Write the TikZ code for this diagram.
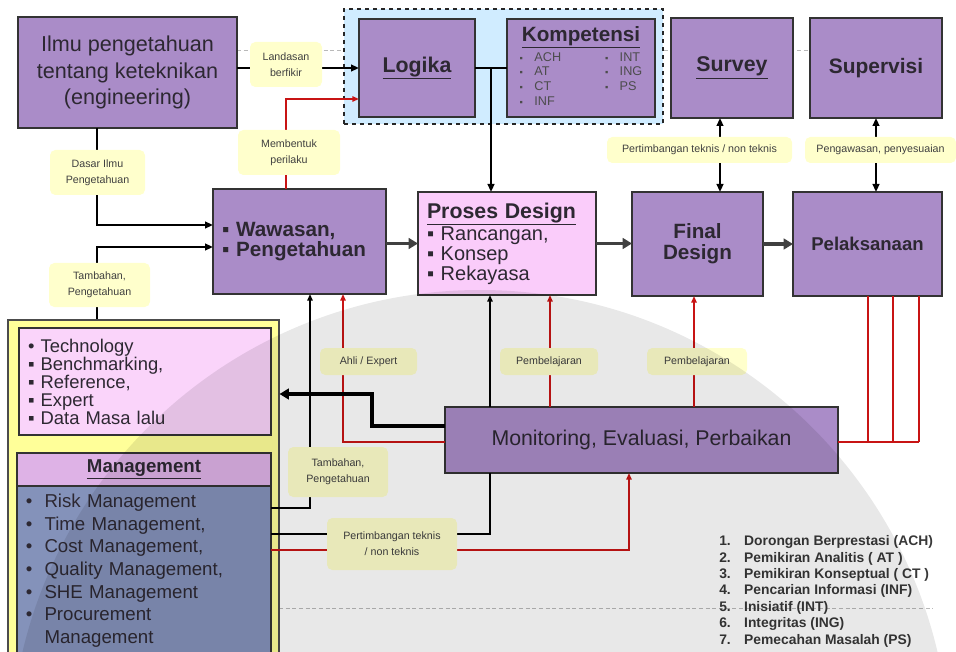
\documentclass[tikz,border=0pt]{standalone}
\usepackage{fontspec}
\setmainfont{Liberation Sans}
\usetikzlibrary{arrows.meta}

\definecolor{boxpurple}{RGB}{170,140,200}
\definecolor{boxpink}{RGB}{250,204,250}
\definecolor{techpink}{RGB}{250,212,250}
\definecolor{mgmthead}{RGB}{222,178,230}
\definecolor{mgmtlist}{RGB}{132,146,186}
\definecolor{lblyellow}{RGB}{255,255,204}
\definecolor{frameyellow}{RGB}{255,255,153}
\definecolor{skyblue}{RGB}{208,236,255}
\definecolor{linkred}{RGB}{200,20,20}
\definecolor{inktext}{RGB}{45,40,50}
\definecolor{guidegrey}{RGB}{185,185,185}

% node from pixel corners: name, style, x1, y1, x2, y2, text
\newcommand\pxbox[7]{%
  \node[#2, minimum width={(#5-#3)*0.75pt}, minimum height={(#6-#4)*0.75pt}]
    (#1) at ({(#3+#5)/2},{(#4+#6)/2}) {#7};}

\tikzset{
  box/.style={draw=black!80, line width=1pt, fill=boxpurple, text=inktext,
              align=center, inner sep=0pt, outer sep=0pt},
  pinkbox/.style={box, fill=boxpink},
  lbl/.style={fill=lblyellow, rounded corners=4pt, text=black!75, align=center,
              inner sep=0pt, outer sep=0pt, font=\fontsize{8}{12}\selectfont},
  conn/.style={draw=black, line width=1.6pt, -{Triangle[length=6pt,width=5pt]}},
  dconn/.style={draw=black, line width=1.6pt,
                {Triangle[length=6pt,width=5pt]}-{Triangle[length=6pt,width=5pt]}},
  thinconn/.style={draw=black, line width=1.2pt, -{Triangle[length=5pt,width=4pt]}},
  thinblk/.style={draw=black, line width=1.4pt},
  bigarrow/.style={draw=black!75, line width=2.6pt, -{Triangle[length=7pt,width=8pt]}},
  redconn/.style={draw=linkred, line width=1.2pt, -{Triangle[length=5pt,width=4pt]}},
  redline/.style={draw=linkred, line width=1.2pt},
  guide/.style={draw=guidegrey, line width=0.6pt, dash pattern=on 3pt off 2pt},
  seal/.style={fill=black, opacity=0.09},
}

\begin{document}
\begin{tikzpicture}[x=0.75pt, y=-0.75pt]
\useasboundingbox (0,0) rectangle (956,652);

% faint dashed guide lines
\draw[guide] (237,50) -- (810,50);
\draw[guide] (279,608) -- (933,608);

% dashed frame round Logika and Kompetensi
\pxbox{ring}{draw=black!85, line width=1pt, dashed, fill=skyblue}{344}{9}{663}{124}{}

% upper row
\pxbox{ilmu}{box, font=\fontsize{16.2}{20}\selectfont}{18}{17}{237}{128}
  {Ilmu pengetahuan\\tentang keteknikan\\(engineering)}
\pxbox{logika}{box, font=\fontsize{16}{18}\selectfont\bfseries}{359}{19}{475}{117}
  {\underline{Logika}}
\pxbox{komp}{box}{507}{19}{655}{117}
  {{\fontsize{15.5}{17}\selectfont\bfseries\underline{Kompetensi}}\\[1pt]
   {\fontsize{9.5}{11}\selectfont\color{black!70}%
   \begin{tabular}{@{}l@{}l@{}}
   \makebox[64pt][l]{\makebox[11pt][l]{\scriptsize ▪}ACH} & \makebox[11pt][l]{\scriptsize ▪}INT\\
   \makebox[64pt][l]{\makebox[11pt][l]{\scriptsize ▪}AT} & \makebox[11pt][l]{\scriptsize ▪}ING\\
   \makebox[64pt][l]{\makebox[11pt][l]{\scriptsize ▪}CT} & \makebox[11pt][l]{\scriptsize ▪}PS\\
   \makebox[64pt][l]{\makebox[11pt][l]{\scriptsize ▪}INF} & \\
   \end{tabular}}}
\pxbox{survey}{box, font=\fontsize{16}{18}\selectfont\bfseries}{671}{18}{793}{118}
  {\underline{Survey}}
\pxbox{supervisi}{box, font=\fontsize{15.7}{18}\selectfont\bfseries}{810}{18}{942}{118}
  {Supervisi}

% middle row
\pxbox{wawasan}{box, font=\fontsize{15.5}{15.5}\selectfont\bfseries,
  text width={(386-213-18)*0.75pt}, align=left}{213}{189}{386}{294}
  {▪ Wawasan,\\▪ Pengetahuan}
\pxbox{proses}{pinkbox, font=\fontsize{15}{15}\selectfont,
  text width={(596-418-18)*0.75pt}, align=left}{418}{192}{596}{295}
  {{\bfseries\fontsize{16}{15}\selectfont\underline{Proses Design}}\\
   ▪ Rancangan,\\▪ Konsep\\▪ Rekayasa}
\pxbox{final}{box, font=\fontsize{15.5}{15.5}\selectfont\bfseries}{632}{192}{763}{296}
  {Final\\Design}
\pxbox{pelak}{box, font=\fontsize{13.9}{16}\selectfont\bfseries}{793}{192}{942}{296}
  {Pelaksanaan}

% lower left column
\pxbox{frame}{draw=black!70, line width=0.8pt, fill=frameyellow}{8}{320}{279}{670}{}
\pxbox{tech}{box, fill=techpink, font=\fontsize{13.8}{13.5}\selectfont,
  text width={(271-19-18)*0.75pt}, align=left}{19}{328}{271}{435}
  {• Technology\\▪ Benchmarking,\\▪ Reference,\\▪ Expert\\▪ Data Masa lalu}
\pxbox{mhead}{box, fill=mgmthead, font=\fontsize{14}{16}\selectfont\bfseries}{17}{453}{271}{486}
  {\underline{Management}}
\pxbox{mlist}{box, fill=mgmtlist, font=\fontsize{14}{17}\selectfont,
  text width={(271-17-18)*0.75pt}, align=left}{17}{486}{271}{656}
  {\begin{tabular}{@{}l@{\hspace{9pt}}l@{}}
   • & Risk Management\\
   • & Time Management,\\
   • & Cost Management,\\
   • & Quality Management,\\
   • & SHE Management\\
   • & Procurement\\
     & Management
   \end{tabular}}

% monitoring
\pxbox{monitor}{box, font=\fontsize{16}{18}\selectfont}{445}{407}{838}{473}
  {Monitoring, Evaluasi, Perbaikan}

% helper points for the routed connectors
\coordinate (lk) at (491,68);
\coordinate (mb) at (286,99);
\coordinate (ds) at (97,225);
\coordinate (tb) at (97,247);
\coordinate (sv) at (720,150);
\coordinate (mp) at (490,350);
\coordinate (mr) at (550,350);
\coordinate (fr) at (694,350);
\coordinate (ah) at (343,442);
\coordinate (tk) at (310,508);
\coordinate (bk) at (372,426);
\coordinate (bt) at (372,394);
\coordinate (pb) at (490,534);
\coordinate (pr) at (629,550);
\coordinate (r1) at (868,442);
\coordinate (r2) at (893,442);
\coordinate (r3) at (919,442);

% connectors
\draw[conn] (ilmu.east |- logika.west) -- (logika.west);
\draw[thinblk] (logika.east) -- (komp.west);
\draw[conn] (lk) -- (lk |- proses.north);
\draw[redconn] (wawasan.north -| mb) |- (logika.west |- mb);
\draw[conn] (ilmu.south -| ds) |- (wawasan.west |- ds);
\draw[conn] (frame.north -| tb) |- (wawasan.west |- tb);
\draw[bigarrow] (wawasan.east |- proses.west) -- (proses.west);
\draw[bigarrow] (proses.east) -- (final.west |- proses.east);
\draw[bigarrow] (final.east) -- (pelak.west |- final.east);
\draw[dconn] (final.north -| sv) -- (survey.south -| sv);
\draw[dconn] (pelak.north -| supervisi.south) -- (supervisi.south);
\draw[thinconn] (monitor.north -| mp) -- (proses.south -| mp);
\draw[redconn] (monitor.north -| mr) -- (proses.south -| mr);
\draw[redconn] (monitor.north -| fr) -- (final.south -| fr);
\draw[redconn] (monitor.west |- ah) -| (wawasan.south -| ah);
\draw[thinconn] (mlist.east |- tk) -| (wawasan.south -| tk);
\draw[bigarrow, draw=black, line width=2.8pt] (monitor.west |- bk) -- (bk) |- (frame.east |- bt);
\draw[thinblk] (mlist.east |- pb) -| (monitor.south -| pb);
\draw[redconn] (mlist.east |- pr) -| (monitor.south -| pr);
\draw[redline] (pelak.south -| r1) -- (r1);
\draw[redline] (pelak.south -| r2) -- (r2);
\draw[redline] (pelak.south -| r3) -- (r3);
\draw[redline] (monitor.east |- r3) -- (r3);

% connector labels
\pxbox{lLandasan}{lbl}{250}{42}{322}{87}{Landasan\\berfikir}
\pxbox{lMembentuk}{lbl}{238}{130}{340}{175}{Membentuk\\perilaku}
\pxbox{lDasar}{lbl}{50}{150}{145}{195}{Dasar Ilmu\\Pengetahuan}
\pxbox{lTambahA}{lbl}{49}{263}{150}{307}{Tambahan,\\Pengetahuan}
\pxbox{lAhli}{lbl}{320}{348}{417}{375}{Ahli / Expert}
\pxbox{lBelajarA}{lbl}{500}{348}{598}{375}{Pembelajaran}
\pxbox{lBelajarB}{lbl}{647}{348}{747}{375}{Pembelajaran}
\pxbox{lSurvey}{lbl}{607}{137}{792}{163}{Pertimbangan teknis / non teknis}
\pxbox{lAwas}{lbl}{805}{137}{956}{163}{Pengawasan, penyesuaian}
\pxbox{lTambahB}{lbl}{288}{447}{388}{497}{Tambahan,\\Pengetahuan}
\pxbox{lTimbang}{lbl}{327}{518}{457}{570}{Pertimbangan teknis\\/ non teknis}

% competence legend
\node[anchor=north west, inner sep=0pt, text=black!78,
      font=\fontsize{10.4}{12.3}\selectfont\bfseries] (legend) at (719,534)
  {\begin{tabular}{@{}l@{\hspace{10pt}}l@{}}
   1. & Dorongan Berprestasi (ACH)\\
   2. & Pemikiran Analitis ( AT )\\
   3. & Pemikiran Konseptual ( CT )\\
   4. & Pencarian Informasi (INF)\\
   5. & Inisiatif (INT)\\
   6. & Integritas (ING)\\
   7. & Pemecahan Masalah (PS)
   \end{tabular}};

% faint round seal laid over the lower half
\fill[seal] (480,760) circle[radius=470];
\end{tikzpicture}
\end{document}
